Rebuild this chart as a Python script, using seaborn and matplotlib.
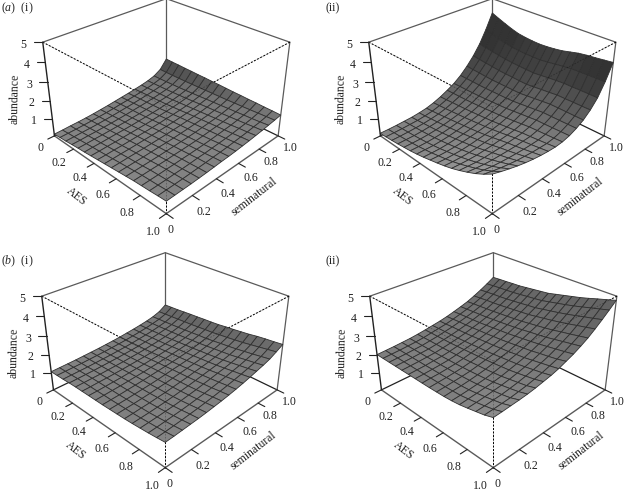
import numpy as np
import matplotlib
matplotlib.use("Agg")
import matplotlib.pyplot as plt
import seaborn as sns
from mpl_toolkits.mplot3d import proj3d

sns.set_theme(style="white")
plt.rcParams["font.family"] = ["Liberation Serif", "DejaVu Serif"]
plt.rcParams["mathtext.fontset"] = "custom"
plt.rcParams["mathtext.rm"] = "Liberation Serif"
plt.rcParams["mathtext.it"] = "Liberation Serif:italic"

# ejes
grid_vals = [0, .0625, .125, .1875, .25, .3125, .375, .4375, .5, .5625, .625, .6875, .75, .8125, .875, .9375, 1]
tick_vals = [0, 0.2, 0.4, 0.6, 0.8, 1.0]
tick_labels = ["0", "0.2", "0.4", "0.6", "0.8", "1.0"]
z_ticks = [1, 2, 3, 4, 5]

# abundancia: filas = AES, columnas = seminatural
a_i = [
    [.10, .11, .13, .14, .16, .19, .23, .27, .32, .37, .42, .48, .54, .62, .74, .97, 1.45],
    [.14, .15, .16, .18, .20, .23, .26, .30, .35, .39, .44, .49, .55, .63, .74, .96, 1.43],
    [.17, .18, .20, .21, .23, .26, .29, .33, .37, .41, .46, .51, .57, .64, .75, .96, 1.42],
    [.21, .22, .24, .25, .27, .29, .32, .35, .39, .43, .47, .52, .58, .65, .76, .96, 1.40],
    [.25, .26, .28, .29, .31, .33, .35, .38, .41, .45, .49, .54, .59, .67, .77, .96, 1.39],
    [.28, .30, .31, .33, .35, .36, .38, .41, .44, .47, .51, .56, .61, .69, .79, .97, 1.37],
    [.32, .33, .35, .36, .38, .40, .42, .44, .47, .51, .55, .59, .64, .71, .81, .98, 1.36],
    [.36, .37, .39, .40, .42, .44, .46, .48, .51, .55, .58, .62, .67, .74, .83, .99, 1.34],
    [.40, .41, .43, .44, .46, .48, .50, .52, .55, .58, .62, .66, .70, .77, .86, 1.00, 1.33],
    [.44, .45, .47, .48, .49, .51, .53, .55, .58, .61, .65, .69, .73, .80, .88, 1.01, 1.31],
    [.48, .49, .50, .51, .53, .55, .56, .58, .61, .64, .68, .72, .76, .82, .90, 1.02, 1.29],
    [.52, .53, .54, .55, .56, .58, .60, .62, .64, .67, .71, .75, .79, .85, .93, 1.04, 1.28],
    [.56, .57, .58, .59, .60, .62, .63, .65, .67, .70, .74, .78, .82, .88, .95, 1.05, 1.26],
    [.58, .59, .60, .62, .63, .65, .66, .68, .70, .73, .77, .81, .85, .91, .98, 1.07, 1.25],
    [.60, .61, .62, .64, .65, .67, .70, .71, .74, .77, .80, .84, .89, .94, 1.00, 1.09, 1.23],
    [.63, .64, .65, .66, .68, .70, .72, .75, .77, .80, .84, .88, .92, .98, 1.03, 1.11, 1.22],
    [.65, .66, .67, .68, .70, .72, .75, .78, .80, .83, .87, .91, .96, 1.01, 1.07, 1.13, 1.20],
]
a_ii = [
    [.15, .15, .16, .18, .20, .25, .32, .44, .60, .80, 1.02, 1.32, 1.70, 2.15, 2.70, 3.40, 4.20],
    [.18, .18, .19, .21, .23, .28, .35, .47, .62, .81, 1.03, 1.31, 1.67, 2.10, 2.63, 3.28, 4.03],
    [.21, .21, .22, .24, .27, .32, .39, .50, .65, .82, 1.03, 1.31, 1.65, 2.06, 2.57, 3.16, 3.87],
    [.25, .25, .25, .27, .31, .36, .44, .54, .67, .83, 1.04, 1.30, 1.62, 2.02, 2.51, 3.06, 3.72],
    [.30, .29, .29, .31, .35, .41, .49, .58, .70, .85, 1.05, 1.30, 1.60, 1.98, 2.46, 2.97, 3.60],
    [.35, .34, .34, .36, .40, .46, .54, .62, .73, .88, 1.07, 1.31, 1.60, 1.96, 2.43, 2.95, 3.54],
    [.42, .41, .40, .42, .46, .52, .59, .67, .77, .91, 1.10, 1.32, 1.60, 1.95, 2.41, 2.93, 3.50],
    [.50, .48, .47, .49, .53, .58, .64, .72, .81, .95, 1.12, 1.33, 1.60, 1.93, 2.39, 2.92, 3.48],
    [.60, .57, .56, .57, .60, .65, .70, .77, .85, .98, 1.15, 1.35, 1.60, 1.92, 2.38, 2.93, 3.50],
    [.70, .66, .65, .65, .68, .73, .77, .83, .91, 1.03, 1.20, 1.40, 1.65, 1.96, 2.42, 2.98, 3.54],
    [.81, .77, .75, .75, .77, .81, .85, .90, .97, 1.08, 1.25, 1.45, 1.70, 2.01, 2.47, 3.04, 3.60],
    [.94, .90, .87, .86, .88, .90, .94, .98, 1.03, 1.14, 1.30, 1.50, 1.75, 2.05, 2.51, 3.10, 3.70],
    [1.10, 1.05, 1.00, .99, 1.00, 1.01, 1.03, 1.06, 1.10, 1.20, 1.35, 1.55, 1.80, 2.10, 2.54, 3.16, 3.80],
    [1.28, 1.21, 1.15, 1.12, 1.11, 1.10, 1.10, 1.12, 1.14, 1.23, 1.36, 1.55, 1.80, 2.10, 2.54, 3.17, 3.86],
    [1.48, 1.39, 1.31, 1.26, 1.22, 1.20, 1.18, 1.18, 1.19, 1.26, 1.38, 1.56, 1.80, 2.11, 2.55, 3.18, 3.90],
    [1.72, 1.60, 1.50, 1.42, 1.35, 1.31, 1.27, 1.25, 1.24, 1.29, 1.40, 1.57, 1.80, 2.11, 2.55, 3.19, 3.95],
    [2.00, 1.85, 1.72, 1.60, 1.50, 1.42, 1.36, 1.32, 1.30, 1.33, 1.42, 1.58, 1.80, 2.12, 2.55, 3.20, 4.00],
]
b_i = [
    [1.05, 1.06, 1.07, 1.08, 1.10, 1.12, 1.14, 1.17, 1.20, 1.24, 1.29, 1.34, 1.40, 1.47, 1.56, 1.70, 1.95],
    [1.06, 1.07, 1.08, 1.09, 1.11, 1.13, 1.15, 1.18, 1.21, 1.25, 1.30, 1.35, 1.41, 1.49, 1.58, 1.72, 1.97],
    [1.07, 1.08, 1.09, 1.10, 1.12, 1.14, 1.16, 1.19, 1.22, 1.26, 1.31, 1.36, 1.42, 1.50, 1.59, 1.74, 1.99],
    [1.09, 1.10, 1.11, 1.12, 1.14, 1.16, 1.18, 1.21, 1.24, 1.28, 1.33, 1.38, 1.44, 1.52, 1.61, 1.76, 2.02],
    [1.10, 1.11, 1.12, 1.13, 1.15, 1.17, 1.19, 1.22, 1.25, 1.29, 1.34, 1.39, 1.45, 1.53, 1.63, 1.78, 2.05],
    [1.10, 1.11, 1.13, 1.14, 1.16, 1.18, 1.21, 1.24, 1.27, 1.31, 1.36, 1.41, 1.47, 1.55, 1.65, 1.80, 2.07],
    [1.10, 1.11, 1.13, 1.15, 1.17, 1.20, 1.23, 1.26, 1.30, 1.34, 1.39, 1.44, 1.50, 1.58, 1.68, 1.83, 2.10],
    [1.10, 1.12, 1.14, 1.16, 1.19, 1.22, 1.25, 1.29, 1.33, 1.37, 1.42, 1.47, 1.53, 1.61, 1.71, 1.86, 2.12],
    [1.10, 1.12, 1.14, 1.17, 1.20, 1.23, 1.27, 1.31, 1.35, 1.39, 1.44, 1.49, 1.55, 1.63, 1.73, 1.88, 2.15],
    [1.11, 1.13, 1.15, 1.18, 1.21, 1.24, 1.28, 1.33, 1.38, 1.42, 1.47, 1.52, 1.59, 1.67, 1.77, 1.93, 2.20],
    [1.12, 1.14, 1.16, 1.19, 1.22, 1.26, 1.30, 1.35, 1.40, 1.45, 1.50, 1.56, 1.62, 1.71, 1.82, 1.97, 2.24],
    [1.13, 1.15, 1.18, 1.20, 1.24, 1.27, 1.32, 1.37, 1.42, 1.48, 1.53, 1.59, 1.66, 1.75, 1.86, 2.02, 2.29],
    [1.15, 1.17, 1.19, 1.22, 1.25, 1.29, 1.34, 1.39, 1.45, 1.51, 1.57, 1.63, 1.70, 1.79, 1.91, 2.07, 2.34],
    [1.18, 1.20, 1.22, 1.25, 1.28, 1.32, 1.37, 1.42, 1.49, 1.55, 1.62, 1.68, 1.76, 1.85, 1.97, 2.14, 2.41],
    [1.21, 1.23, 1.26, 1.29, 1.32, 1.36, 1.41, 1.46, 1.52, 1.59, 1.66, 1.74, 1.82, 1.92, 2.03, 2.21, 2.46],
    [1.25, 1.27, 1.30, 1.33, 1.37, 1.41, 1.46, 1.51, 1.57, 1.64, 1.71, 1.79, 1.88, 1.98, 2.10, 2.28, 2.50],
    [1.30, 1.32, 1.35, 1.38, 1.41, 1.45, 1.50, 1.55, 1.61, 1.68, 1.76, 1.85, 1.95, 2.05, 2.17, 2.35, 2.55],
]
b_ii = [
    [2.00, 2.02, 2.04, 2.07, 2.10, 2.15, 2.21, 2.28, 2.35, 2.44, 2.55, 2.67, 2.80, 2.97, 3.16, 3.37, 3.60],
    [2.00, 2.02, 2.04, 2.07, 2.10, 2.15, 2.22, 2.29, 2.36, 2.46, 2.57, 2.69, 2.83, 3.00, 3.19, 3.40, 3.63],
    [2.00, 2.02, 2.04, 2.07, 2.10, 2.16, 2.22, 2.30, 2.38, 2.48, 2.59, 2.71, 2.85, 3.03, 3.22, 3.43, 3.65],
    [2.00, 2.02, 2.04, 2.07, 2.10, 2.16, 2.23, 2.30, 2.39, 2.49, 2.60, 2.73, 2.88, 3.05, 3.24, 3.45, 3.68],
    [2.00, 2.02, 2.04, 2.07, 2.10, 2.16, 2.23, 2.31, 2.40, 2.51, 2.62, 2.75, 2.90, 3.08, 3.27, 3.48, 3.70],
    [2.00, 2.02, 2.04, 2.08, 2.11, 2.17, 2.25, 2.33, 2.42, 2.54, 2.65, 2.79, 2.94, 3.12, 3.31, 3.52, 3.75],
    [2.00, 2.02, 2.05, 2.08, 2.12, 2.19, 2.27, 2.35, 2.45, 2.56, 2.68, 2.82, 2.97, 3.16, 3.35, 3.57, 3.80],
    [2.00, 2.03, 2.05, 2.09, 2.13, 2.20, 2.29, 2.38, 2.48, 2.59, 2.72, 2.86, 3.01, 3.20, 3.40, 3.61, 3.85],
    [2.00, 2.03, 2.06, 2.10, 2.15, 2.22, 2.31, 2.40, 2.50, 2.62, 2.75, 2.90, 3.05, 3.24, 3.44, 3.66, 3.90],
    [2.01, 2.04, 2.08, 2.12, 2.17, 2.25, 2.34, 2.43, 2.54, 2.66, 2.80, 2.95, 3.11, 3.31, 3.52, 3.75, 4.00],
    [2.02, 2.06, 2.09, 2.14, 2.20, 2.27, 2.37, 2.47, 2.57, 2.71, 2.85, 3.01, 3.17, 3.38, 3.60, 3.84, 4.10],
    [2.05, 2.08, 2.12, 2.17, 2.23, 2.31, 2.41, 2.51, 2.62, 2.75, 2.90, 3.06, 3.23, 3.45, 3.68, 3.93, 4.20],
    [2.10, 2.14, 2.18, 2.23, 2.28, 2.35, 2.45, 2.55, 2.66, 2.80, 2.96, 3.12, 3.30, 3.53, 3.77, 4.03, 4.30],
    [2.18, 2.21, 2.25, 2.30, 2.35, 2.42, 2.51, 2.61, 2.73, 2.87, 3.03, 3.20, 3.39, 3.62, 3.87, 4.14, 4.42],
    [2.27, 2.29, 2.33, 2.36, 2.42, 2.49, 2.58, 2.68, 2.80, 2.93, 3.10, 3.28, 3.47, 3.72, 3.98, 4.26, 4.55],
    [2.36, 2.38, 2.41, 2.44, 2.50, 2.56, 2.65, 2.75, 2.87, 3.00, 3.17, 3.36, 3.56, 3.81, 4.08, 4.37, 4.67],
    [2.50, 2.52, 2.55, 2.58, 2.62, 2.68, 2.76, 2.84, 2.95, 3.10, 3.25, 3.44, 3.65, 3.91, 4.19, 4.49, 4.80],
]

W, H = 624, 491
SIDE = 250.86
GREY = "#5a5a5a"
DARK = "#222222"
TXT = "#222222"
LIGHT = np.array([-0.5, 0.5, 0.7])


# colores de las facetas segun la inclinacion
def facet_colors(Z):
    dz_a = np.gradient(Z, axis=0) * (len(Z) - 1) * 0.65 / 5
    dz_s = np.gradient(Z, axis=1) * (len(Z) - 1) * 0.65 / 5
    dot = (-dz_a * LIGHT[0] - dz_s * LIGHT[1] + LIGHT[2]) / np.sqrt(dz_a**2 + dz_s**2 + 1)
    g = np.clip(0.2 + 0.44 * dot, 0.2, 0.62)
    return np.dstack([g, g, g, np.ones_like(g)])


# texto en coordenadas 3D, proyectado al plano de los ejes
def label(ax, x, y, z, s, size=8.6, rot=0):
    xp, yp, _ = proj3d.proj_transform(x, y, z, ax.get_proj())
    ax.text2D(xp, yp, s, transform=ax.transData, rotation=rot, ha="center", va="center",
              fontsize=size, color=TXT)


def panel(left, bottom, data):
    ax = fig.add_axes([left / W, bottom / H, SIDE / W, SIDE / H], projection="3d", computed_zorder=False)
    ax.set_xlim(0, 1, view_margin=0)
    ax.set_ylim(0, 1, view_margin=0)
    ax.set_zlim(0, 5, view_margin=0)
    ax.view_init(elev=30, azim=-45)
    ax.set_box_aspect((1, 1, 0.65))
    ax.set_proj_type("persp", focal_length=0.4)
    ax.set_axis_off()
    ax.patch.set_alpha(0)

    # caja: lineas de atras
    for xs, ys, zs, col in [([0, 0], [0, 1], [5, 5], GREY), ([0, 1], [1, 1], [5, 5], GREY),
                            ([0, 0], [1, 1], [0, 5], GREY), ([1, 1], [1, 1], [0, 5], GREY),
                            ([0, 0], [0, 1], [0, 0], DARK), ([0, 1], [1, 1], [0, 0], DARK)]:
        ax.plot(xs, ys, zs, color=col, lw=0.9, zorder=1, clip_on=False)
    dashed = [([0, 1], [0, 0], [5, 5]), ([1, 1], [1, 0], [5, 5]), ([1, 1], [0, 0], [0, 5])]
    for xs, ys, zs in dashed:
        ax.plot(xs, ys, zs, color="black", lw=0.7, ls=(0, (2, 1.6)), zorder=1, clip_on=False)

    # superficie
    A, S = np.meshgrid(grid_vals, grid_vals, indexing="ij")
    Z = np.array(data)
    surf = ax.plot_surface(A, S, Z, rstride=1, cstride=1, facecolors=facet_colors(Z), shade=False,
                           edgecolor="#303030", linewidth=0.6, zorder=2)
    surf.set_clip_on(False)

    # lineas punteadas vistas a traves de la superficie
    for xs, ys, zs in dashed:
        ax.plot(xs, ys, zs, color="black", lw=0.6, ls=(0, (2, 1.6)), alpha=0.3, zorder=3, clip_on=False)

    # caja: lineas de adelante
    ax.plot([0, 1], [0, 0], [0, 0], color=GREY, lw=1.0, zorder=3, clip_on=False)
    ax.plot([1, 1], [0, 1], [0, 0], color=GREY, lw=1.0, zorder=3, clip_on=False)
    ax.plot([0, 0], [0, 0], [0, 5], color=DARK, lw=1.0, zorder=3, clip_on=False)

    # marcas y etiquetas
    for t, lab in zip(tick_vals, tick_labels):
        ax.plot([t, t], [0, -0.05], [0, 0], color=DARK, lw=0.8, zorder=3, clip_on=False)
        ax.plot([1, 1.05], [t, t], [0, 0], color=DARK, lw=0.8, zorder=3, clip_on=False)
        label(ax, t + 0.05, -0.14, 0, lab)
        if t == 0:
            label(ax, 1.10, -0.07, 0, lab)
        else:
            label(ax, 1.13, t - 0.055, 0, lab)
    for z in z_ticks:
        ax.plot([0, -0.035], [0, -0.035], [z, z], color=DARK, lw=0.8, zorder=3, clip_on=False)
        label(ax, -0.08, -0.08, z - 0.15, str(z))
    label(ax, 0.56, -0.25, 0, "AES", size=8.5, rot=-38)
    label(ax, 1.24, 0.43, 0, "seminatural", size=8.5, rot=38)
    label(ax, -0.15, -0.15, 2.1, "abundance", size=8.5, rot=89)
    return ax


fig = plt.figure(figsize=(W / 100, H / 100), dpi=100)
panel(37.47, 270.82, a_i)
panel(363.47, 270.82, a_ii)
panel(36.47, 16.82, b_i)
panel(364.47, 16.82, b_ii)

fig.text(1 / W, 1 - 8 / H, r"($\mathit{a}$)  (i)", fontsize=8.6, va="center", color=TXT)
fig.text(325 / W, 1 - 8 / H, "(ii)", fontsize=8.6, va="center", color=TXT)
fig.text(1 / W, 1 - 261 / H, r"($\mathit{b}$)  (i)", fontsize=8.6, va="center", color=TXT)
fig.text(325 / W, 1 - 261 / H, "(ii)", fontsize=8.6, va="center", color=TXT)

fig.savefig("out.png", dpi=100)
